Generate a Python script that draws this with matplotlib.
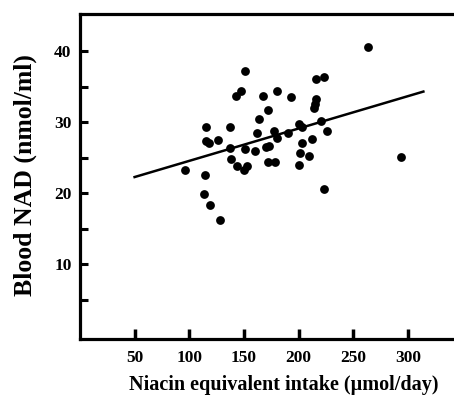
import numpy as np
import matplotlib
matplotlib.use("Agg")
import matplotlib.pyplot as plt

# niacin equivalent intake (umol/day) and blood NAD (nmol/ml)
intake = [96, 114, 113, 119, 128, 115, 115.5, 118, 126.5, 137, 137, 138, 144,
          143, 147, 151, 151, 152.5, 150, 160, 162, 164, 167, 172, 170, 173,
          172, 177, 180.5, 180, 178, 190, 193, 200, 201, 200.5, 203, 203,
          209.5, 212, 214, 216, 215.5, 223, 220, 225.5, 223, 263.5, 294, 214.5]
nad = [23.2, 22.6, 19.9, 18.4, 16.2, 29.3, 27.4, 27.0, 27.5, 29.3, 26.4, 24.8,
       23.8, 33.6, 34.4, 37.2, 26.2, 23.8, 23.3, 25.9, 28.4, 30.4, 33.6, 31.7,
       26.5, 26.7, 24.4, 28.8, 34.3, 27.8, 24.4, 28.4, 33.5, 29.8, 25.7, 23.9,
       29.3, 27.1, 25.3, 27.6, 32.0, 33.2, 36.0, 36.4, 30.2, 28.7, 20.6, 40.5,
       25.1, 32.5]

# regression line as drawn
fit_intercept = 20.0
fit_slope = 0.0455
fit_range = [50, 314]

x_ticks = [50, 100, 150, 200, 250, 300]
y_ticks = [10, 20, 30, 40]
y_minor = [5, 15, 25, 35]

plt.rcParams['font.family'] = ['Liberation Serif', 'DejaVu Serif']
plt.rcParams['font.weight'] = 'bold'

fig = plt.figure(figsize=(4.54, 3.98), dpi=100)
ax = fig.add_axes([0.176, 0.148, 0.824, 0.817])

ax.scatter(intake, nad, s=40, color='black', zorder=3, linewidths=0)
fx = np.array(fit_range)
ax.plot(fx, fit_intercept + fit_slope * fx, color='black', lw=1.8)

ax.set_xlim(0, 342)
ax.set_ylim(-0.5, 45.2)

ax.spines['right'].set_visible(False)
for s in ['left', 'top', 'bottom']:
    ax.spines[s].set_linewidth(2.3)

ax.set_xticks(x_ticks)
ax.set_yticks(y_ticks)
ax.set_yticks(y_minor, minor=True)
ax.tick_params(axis='y', which='both', direction='in', length=6, width=2.2,
               labelsize=12.5, pad=6)
ax.tick_params(axis='x', direction='in', length=7, width=2.5, labelsize=12.5, pad=8)
for lab in ax.get_xticklabels() + ax.get_yticklabels():
    lab.set_fontweight('bold')

ax.set_ylabel('Blood NAD (nmol/ml)', fontsize=18.5, fontweight='bold')
ax.yaxis.set_label_coords(-0.115, 0.505)
ax.set_xlabel('Niacin equivalent intake (\u00b5mol/day)', fontsize=14.5,
              fontweight='bold')
ax.xaxis.set_label_coords(0.545, -0.11)

fig.savefig('out.png', dpi=100)
